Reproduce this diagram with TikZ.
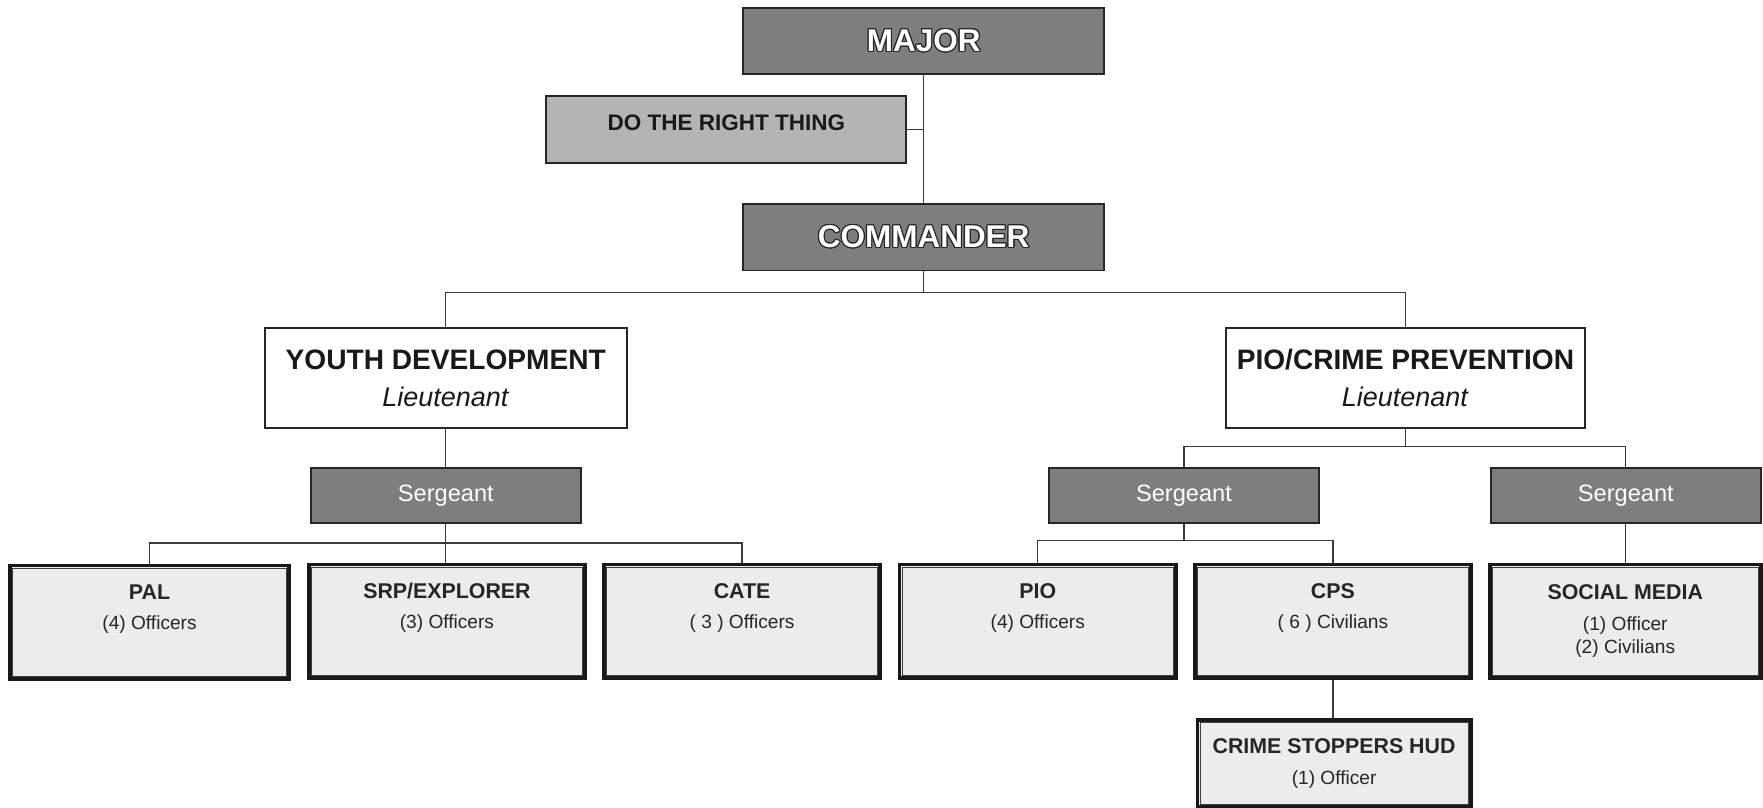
\documentclass[tikz,border=0pt]{standalone}
\usepackage{fontspec}
\setmainfont{Liberation Sans}
\usepackage{contour}
\contourlength{0.5pt}
\definecolor{darkbox}{HTML}{7E7E7E}
\definecolor{midbox}{HTML}{B4B4B4}
\definecolor{leafbox}{HTML}{ECECEC}
\definecolor{linecol}{HTML}{3A3A3A}
\newcommand{\whitetxt}[1]{\textcolor{white}{\contour{black!85}{#1}}}
\newcommand{\ltitle}[1]{{\fontsize{9.5}{11}\selectfont\bfseries #1}}
\tikzset{
  conn/.style={draw=linecol, line width=0.55pt},
  topbox/.style={draw=black!85, line width=0.7pt, fill=darkbox, minimum width=160.5pt,
    minimum height=29.5pt, inner sep=0pt, font=\fontsize{14}{16}\selectfont\bfseries},
  drtbox/.style={draw=black!85, line width=0.9pt, fill=midbox, minimum width=160pt,
    minimum height=30pt, inner sep=0pt, font=\fontsize{10}{12}\selectfont\bfseries,
    text=black!90, text depth=6pt},
  ltbox/.style={draw=black!85, line width=0.9pt, fill=white, minimum width=161pt,
    minimum height=44.5pt, inner sep=0pt, align=center, text=black!90,
    font=\fontsize{12}{14}\selectfont},
  sgtbox/.style={draw=black!85, line width=0.9pt, fill=darkbox, minimum width=120pt,
    minimum height=24.5pt, inner sep=0pt, font=\fontsize{10.5}{12}\selectfont, text=white},
  leaf/.style={draw=black!90, line width=1.7pt, fill=leafbox, minimum width=123pt,
    minimum height=50.5pt, inner sep=0pt, align=center, text=black!85,
    font=\fontsize{8.5}{10.5}\selectfont},
}
\begin{document}
\begin{tikzpicture}[x=0.5pt,y=-0.5pt]
\useasboundingbox (0,0) rectangle (1568,718.6);
% top
\node[topbox] (major) at (821.5,36.5) {\whitetxt{MAJOR}};
\node[drtbox] (drt) at (646,115) {DO THE RIGHT THING};
\node[topbox] (commander) at (821.5,211) {\whitetxt{COMMANDER}};
% lieutenants
\node[ltbox] (yd) at (396.5,336.5) {{\fontsize{12.5}{14}\selectfont\bfseries YOUTH DEVELOPMENT}\\[2.5pt]\textit{Lieutenant}};
\node[ltbox, minimum width=160pt] (pcp) at (1250,336.5) {{\fontsize{12.5}{14}\selectfont\bfseries PIO/CRIME PREVENTION}\\[2.5pt]\textit{Lieutenant}};
% sergeants
\node[sgtbox] (sergL) at (396.5,440.5) {Sergeant};
\node[sgtbox] (sergM) at (1053,440.5) {Sergeant};
\node[sgtbox] (sergR) at (1446,440.5) {Sergeant};
% leaves
\node[leaf, minimum width=124pt] (pal) at (133,553.5) {\ltitle{PAL}\\[3pt](4) Officers\\\strut};
\node[leaf] (srp) at (397.5,552.5) {\ltitle{SRP/EXPLORER}\\[3pt](3) Officers\\\strut};
\node[leaf] (cate) at (660,552.5) {\ltitle{CATE}\\[3pt]( 3 ) Officers\\\strut};
\node[leaf] (pio) at (923,552.5) {\ltitle{PIO}\\[3pt](4) Officers\\\strut};
\node[leaf] (cps) at (1185.5,552.5) {\ltitle{CPS}\\[3pt]( 6 ) Civilians\\\strut};
\node[leaf, minimum width=120.5pt] (social) at (1445.5,552.5) {\ltitle{SOCIAL MEDIA}\\[3pt](1) Officer\\(2) Civilians};
\node[leaf, minimum width=121.5pt, minimum height=39pt] (csh) at (1186.5,679) {\ltitle{CRIME STOPPERS HUD}\\[3pt](1) Officer};
% inner thin borders of leaf boxes
\foreach \n in {pal,srp,cate,pio,cps,social,csh}{
  \draw[black!75, line width=0.45pt] ([shift={(2pt,-2pt)}]\n.north west) rectangle ([shift={(-2pt,2pt)}]\n.south east);
}
% connectors
\coordinate (b1) at (821.5,260);
\coordinate (b2) at (396.5,483);
\coordinate (b3) at (1250,397);
\coordinate (b4) at (1053,481);
\draw[conn] (major.south) -- (commander.north);
\draw[conn] (drt.east) -- (drt.east -| major.south);
\draw[conn] (commander.south) -- (b1);
\draw[conn] (yd.north) |- (b1) -| (pcp.north);
\draw[conn] (yd.south) -- (sergL.north);
\draw[conn] (sergL.south) -- (b2);
\draw[conn] (pal.north) |- (b2) -| (cate.north);
\draw[conn] (b2) -- (b2 |- srp.north);
\draw[conn] (pcp.south) -- (b3);
\draw[conn] (sergM.north) |- (b3) -| (sergR.north);
\draw[conn] (sergM.south) -- (b4);
\draw[conn] (pio.north) |- (b4) -| (cps.north);
\draw[conn] (sergR.south) -- (sergR.south |- social.north);
\draw[conn] (cps.south) -- (cps.south |- csh.north);
\end{tikzpicture}
\end{document}
